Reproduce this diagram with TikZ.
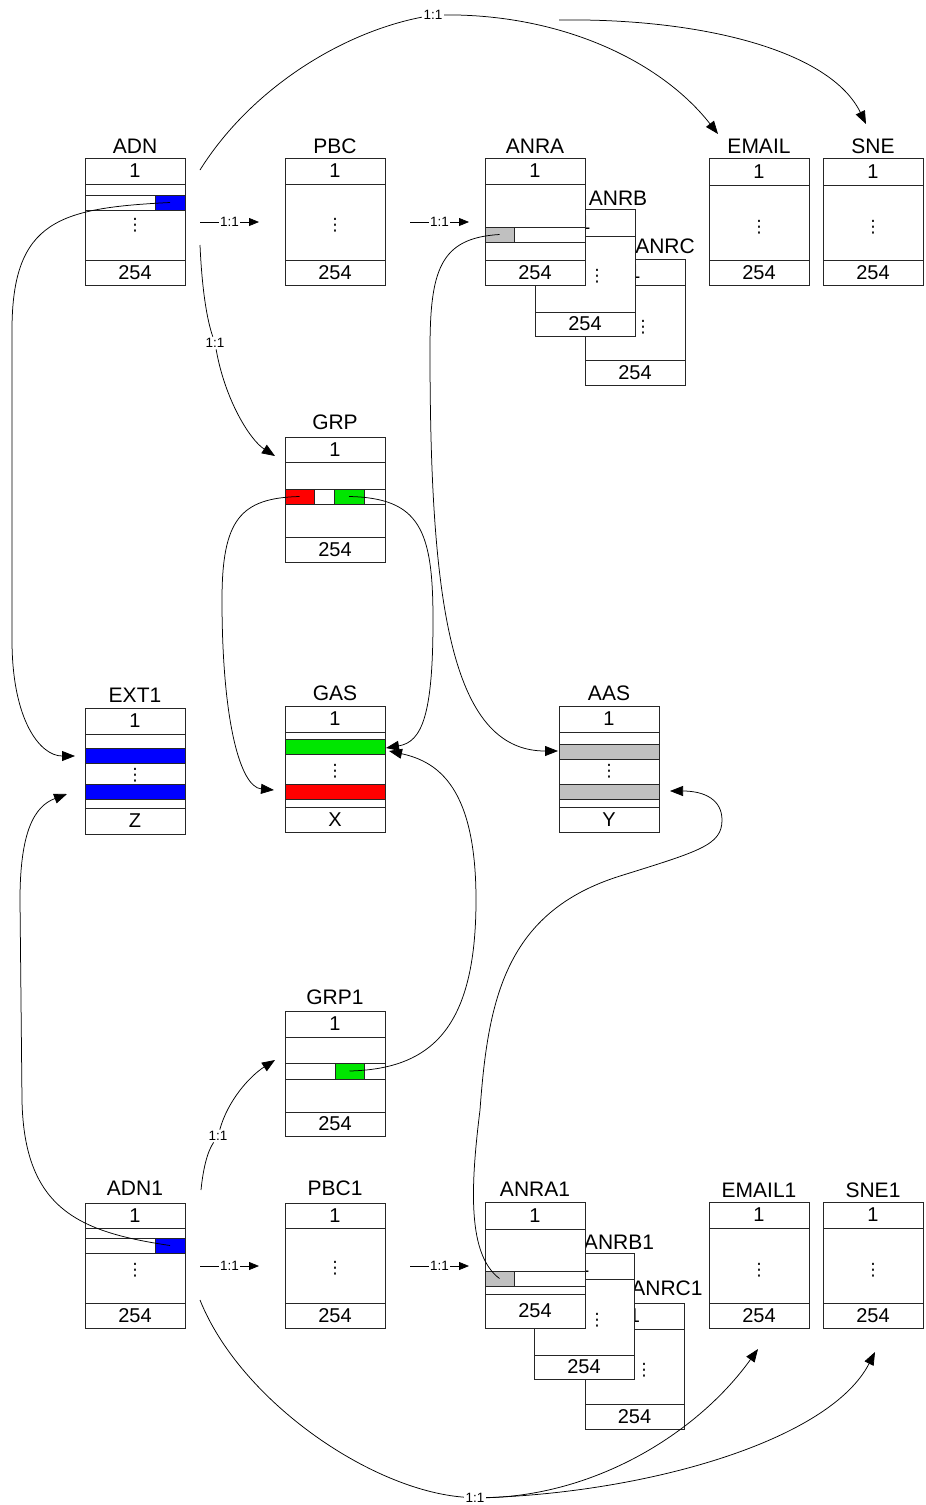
\documentclass[tikz,border=0pt]{standalone}
\usepackage{fontspec}
\setmainfont{Liberation Sans}
\newfontfamily\dvs{DejaVu Sans}
\usetikzlibrary{arrows.meta}
\definecolor{cblue}{RGB}{0,0,255}
\definecolor{cgreen}{RGB}{0,230,0}
\definecolor{cred}{RGB}{255,0,0}
\definecolor{cgray}{RGB}{192,192,192}
\tikzset{
 tbl/.style={draw=black!85, line width=0.75pt, inner sep=0pt, outer sep=0pt, anchor=north west, font=\fontsize{20}{20}\selectfont},
 ttl/.style={inner sep=0pt, font=\fontsize{21}{21}\selectfont},
 dts/.style={inner sep=0pt, font=\dvs\fontsize{17}{17}\selectfont},
 lab/.style={inner sep=1.5pt, fill=white, font=\fontsize{13.5}{13.5}\selectfont},
 conn/.style={line width=0.75pt, -{Triangle[length=13pt,width=10pt]}},
 sconn/.style={line width=0.75pt, -{Triangle[length=10pt,width=8pt]}},
 plainc/.style={line width=0.75pt},
}
\newcommand{\mkcell}[7]{\node[tbl,fill=#2,minimum width={(#5)-(#3)},minimum height={(#6)-(#4)}] (#1) at (#3,#4) {#7};}
\begin{document}
\begin{tikzpicture}[x=1pt,y=-1pt]
\useasboundingbox[fill=white] (0,0) rectangle (926,1505);
% ---------- ADN
\node[ttl] (adnT) at (135,146) {ADN};
\mkcell{adn}{white}{85}{158}{185}{285}{}
\mkcell{adnA}{white}{85}{158}{185}{184}{1}
\mkcell{adnW}{white}{85}{195}{155}{210}{}
\mkcell{adnB}{cblue}{155}{195}{185}{210}{}
\node[dts] (adnD) at (135,225) {⋮};
\mkcell{adnZ}{white}{85}{260}{185}{285}{254}
% ---------- PBC
\node[ttl] (pbcT) at (335,146) {PBC};
\mkcell{pbc}{white}{285}{158}{385}{285}{}
\mkcell{pbcA}{white}{285}{158}{385}{184}{1}
\node[dts] (pbcD) at (335,225) {⋮};
\mkcell{pbcZ}{white}{285}{260}{385}{285}{254}
% ---------- ANRC
\node[ttl] (anrcT) at (665,246) {ANRC};
\mkcell{anrc}{white}{585}{259}{685}{385}{}
\mkcell{anrcA}{white}{585}{259}{685}{285}{1}
\node[dts] (anrcD) at (643,327) {⋮};
\mkcell{anrcZ}{white}{585}{360}{685}{385}{254}
% ---------- ANRB
\node[ttl] (anrbT) at (618,198) {ANRB};
\mkcell{anrb}{white}{535}{209}{635}{336}{}
\mkcell{anrbA}{white}{535}{209}{635}{236}{1}
\node[dts] (anrbD) at (597,276) {⋮};
\mkcell{anrbZ}{white}{535}{312}{635}{336}{254}
% ---------- ANRA
\node[ttl] (anraT) at (535,146) {ANRA};
\mkcell{anra}{white}{485}{158}{585}{285}{}
\mkcell{anraA}{white}{485}{158}{585}{184}{1}
\mkcell{anraG}{cgray}{485}{227}{514}{242}{}
\mkcell{anraW}{white}{514}{227}{585}{242}{}
\mkcell{anraZ}{white}{485}{260}{585}{285}{254}
% ---------- EMAIL
\node[ttl] (emailT) at (759,146) {EMAIL};
\mkcell{email}{white}{709}{158}{809}{285}{}
\mkcell{emailA}{white}{709}{158}{809}{185}{1}
\node[dts] (emailD) at (759,227) {⋮};
\mkcell{emailZ}{white}{709}{260}{809}{285}{254}
% ---------- SNE
\node[ttl] (sneT) at (873,146) {SNE};
\mkcell{sne}{white}{823}{158}{923}{285}{}
\mkcell{sneA}{white}{823}{158}{923}{185}{1}
\node[dts] (sneD) at (873,227) {⋮};
\mkcell{sneZ}{white}{823}{260}{923}{285}{254}
% ---------- GRP
\node[ttl] (grpT) at (335,422) {GRP};
\mkcell{grp}{white}{285}{437}{385}{562}{}
\mkcell{grpA}{white}{285}{437}{385}{462}{1}
\mkcell{grpR}{cred}{285}{489}{314}{504}{}
\mkcell{grpW1}{white}{314}{489}{334}{504}{}
\mkcell{grpG}{cgreen}{334}{489}{364}{504}{}
\mkcell{grpW2}{white}{364}{489}{385}{504}{}
\mkcell{grpZ}{white}{285}{537}{385}{562}{254}
% ---------- EXT1
\node[ttl] (extT) at (135,695) {EXT1};
\mkcell{ext}{white}{85}{708}{185}{834}{}
\mkcell{extA}{white}{85}{708}{185}{734}{1}
\mkcell{extB1}{cblue}{85}{748}{185}{763}{}
\node[dts] (extD) at (135,775) {⋮};
\mkcell{extB2}{cblue}{85}{784}{185}{799}{}
\mkcell{extZ}{white}{85}{808}{185}{834}{Z}
% ---------- GAS
\node[ttl] (gasT) at (335,693) {GAS};
\mkcell{gas}{white}{285}{706}{385}{832}{}
\mkcell{gasA}{white}{285}{706}{385}{732}{1}
\mkcell{gasG}{cgreen}{285}{739}{385}{754}{}
\node[dts] (gasD) at (335,771) {⋮};
\mkcell{gasR}{cred}{285}{784}{385}{799}{}
\mkcell{gasZ}{white}{285}{807}{385}{832}{X}
% ---------- AAS
\node[ttl] (aasT) at (609,693) {AAS};
\mkcell{aas}{white}{559}{706}{659}{832}{}
\mkcell{aasA}{white}{559}{706}{659}{732}{1}
\mkcell{aasG1}{cgray}{559}{744}{659}{759}{}
\node[dts] (aasD) at (609,771) {⋮};
\mkcell{aasG2}{cgray}{559}{784}{659}{799}{}
\mkcell{aasZ}{white}{559}{807}{659}{832}{Y}
% ---------- GRP1
\node[ttl] (grp1T) at (335,997) {GRP1};
\mkcell{grp1}{white}{285}{1011}{385}{1136}{}
\mkcell{grp1A}{white}{285}{1011}{385}{1037}{1}
\mkcell{grp1W1}{white}{285}{1063}{335}{1079}{}
\mkcell{grp1G}{cgreen}{335}{1063}{364}{1079}{}
\mkcell{grp1W2}{white}{364}{1063}{385}{1079}{}
\mkcell{grp1Z}{white}{285}{1112}{385}{1136}{254}
% ---------- ADN1
\node[ttl] (adn1T) at (135,1188) {ADN1};
\mkcell{adn1}{white}{85}{1203}{185}{1328}{}
\mkcell{adn1A}{white}{85}{1203}{185}{1228}{1}
\mkcell{adn1W}{white}{85}{1238}{155}{1253}{}
\mkcell{adn1B}{cblue}{155}{1238}{185}{1253}{}
\node[dts] (adn1D) at (135,1270) {⋮};
\mkcell{adn1Z}{white}{85}{1303}{185}{1328}{254}
% ---------- PBC1
\node[ttl] (pbc1T) at (335,1188) {PBC1};
\mkcell{pbc1}{white}{285}{1203}{385}{1328}{}
\mkcell{pbc1A}{white}{285}{1203}{385}{1228}{1}
\node[dts] (pbc1D) at (335,1268) {⋮};
\mkcell{pbc1Z}{white}{285}{1303}{385}{1328}{254}
% ---------- ANRC1
\node[ttl] (anrc1T) at (667,1288) {ANRC1};
\mkcell{anrc1}{white}{585}{1303}{684}{1429}{}
\mkcell{anrc1A}{white}{585}{1303}{684}{1329}{1}
\node[dts] (anrc1D) at (644,1370) {⋮};
\mkcell{anrc1Z}{white}{585}{1404}{684}{1429}{254}
% ---------- ANRB1
\node[ttl] (anrb1T) at (619,1242) {ANRB1};
\mkcell{anrb1}{white}{534}{1253}{634}{1379}{}
\mkcell{anrb1A}{white}{534}{1253}{634}{1279}{1}
\node[dts] (anrb1D) at (597,1320) {⋮};
\mkcell{anrb1Z}{white}{534}{1355}{634}{1379}{254}
% ---------- ANRA1
\node[ttl] (anra1T) at (535,1189) {ANRA1};
\mkcell{anra1}{white}{485}{1202}{585}{1328}{}
\mkcell{anra1A}{white}{485}{1202}{585}{1229}{1}
\mkcell{anra1G}{cgray}{485}{1271}{514}{1286}{}
\mkcell{anra1W}{white}{514}{1271}{585}{1286}{}
\mkcell{anra1Z}{white}{485}{1294}{585}{1328}{254}
% ---------- EMAIL1
\node[ttl] (email1T) at (759,1190) {EMAIL1};
\mkcell{email1}{white}{709}{1202}{809}{1328}{}
\mkcell{email1A}{white}{709}{1202}{809}{1228}{1}
\node[dts] (email1D) at (759,1270) {⋮};
\mkcell{email1Z}{white}{709}{1303}{809}{1328}{254}
% ---------- SNE1
\node[ttl] (sne1T) at (873,1190) {SNE1};
\mkcell{sne1}{white}{823}{1202}{923}{1328}{}
\mkcell{sne1A}{white}{823}{1202}{923}{1228}{1}
\node[dts] (sne1D) at (873,1270) {⋮};
\mkcell{sne1Z}{white}{823}{1303}{923}{1328}{254}

% ---------- connector end points
\coordinate (s1a) at (200,222); \coordinate (s1b) at (259,222);
\coordinate (s2a) at (410,222); \coordinate (s2b) at (469,222);
\coordinate (s3a) at (200,1266); \coordinate (s3b) at (259,1266);
\coordinate (s4a) at (410,1266); \coordinate (s4b) at (469,1266);
\coordinate (adnUp) at (200,170);
\coordinate (adnDown) at (200,245);
\coordinate (emailIn) at (718,134);
\coordinate (sneFrom) at (559,20);
\coordinate (sneIn) at (866,124);
\coordinate (grpIn) at (275,456);
\coordinate (extIn1) at (75,756);
\coordinate (extIn2) at (67,794);
\coordinate (gasInR) at (274,790);
\coordinate (gasInG1) at (386,748);
\coordinate (gasInG2) at (389,751);
\coordinate (aasIn1) at (558,751);
\coordinate (aasIn2) at (670,791);
\coordinate (adn1Up) at (201,1190);
\coordinate (adn1Down) at (200,1300);
\coordinate (grp1In) at (275,1060);
\coordinate (email1In) at (758,1349);
\coordinate (sne1In) at (875,1352);

% ---------- labels on curves
\node[lab] (lt) at (433,15) {1:1};
\node[lab] (lg) at (215,343) {1:1};
\node[lab] (lg1) at (218,1136) {1:1};
\node[lab] (lb) at (475,1498) {1:1};

% ---------- short arrows
\draw[sconn] (s1a) -- node[lab] (m1) {1:1} (s1b);
\draw[sconn] (s2a) -- node[lab] (m2) {1:1} (s2b);
\draw[sconn] (s3a) -- node[lab] (m3) {1:1} (s3b);
\draw[sconn] (s4a) -- node[lab] (m4) {1:1} (s4b);

% ---------- top arc
\draw[plainc] (adnUp) .. controls (250,90) and (340,33) .. (lt);
\draw[conn] (lt) .. controls (560,14) and (660,60) .. (emailIn);
\draw[conn] (sneFrom) .. controls (700,18) and (830,50) .. (sneIn);
% ---------- ADN -> GRP
\draw[plainc] (adnDown) .. controls (202,290) and (207,320) .. (lg);
\draw[conn] (lg) .. controls (225,400) and (250,440) .. (grpIn);
% ---------- ADN blue -> EXT1
\draw[conn] (adnB.center) .. controls (60,208) and (12,220) .. (12,330) -- (12,640) .. controls (12,720) and (40,756) .. (extIn1);
% ---------- ANRA gray -> AAS
\draw[conn] (anraG.center) .. controls (440,238) and (430,270) .. (430,350) .. controls (430,600) and (450,751) .. (aasIn1);
% ---------- GRP red/green -> GAS
\draw[conn] (grpR.center) .. controls (240,498) and (222,520) .. (222,600) .. controls (222,720) and (240,787) .. (gasInR);
\draw[conn] (grpG.center) .. controls (420,498) and (433,530) .. (433,620) .. controls (433,715) and (422,742) .. (gasInG1);
\draw[conn] (grp1G.center) .. controls (430,1069) and (476,1030) .. (476,900) .. controls (476,790) and (440,762) .. (gasInG2);
% ---------- ADN1 blue -> EXT1
\draw[conn] (adn1B.center) .. controls (80,1232) and (24,1210) .. (22,1100) -- (20,900) .. controls (20,830) and (35,806) .. (extIn2);
% ---------- ANRA1 gray -> AAS
\draw[conn] (anra1G.center) .. controls (468,1255) and (470,1190) .. (480,1110) .. controls (488,1000) and (505,912) .. (620,876) .. controls (700,851) and (722,845) .. (722,820) .. controls (722,800) and (705,791) .. (aasIn2);
% ---------- ADN1 -> GRP1
\draw[plainc] (adn1Up) .. controls (203,1170) and (207,1152) .. (lg1);
\draw[conn] (lg1) .. controls (228,1100) and (250,1076) .. (grp1In);
% ---------- bottom arc
\draw[plainc] (adn1Down) .. controls (240,1400) and (370,1490) .. (lb);
\draw[conn] (lb) .. controls (600,1495) and (700,1430) .. (email1In);
\draw[conn] (lb) .. controls (650,1492) and (830,1440) .. (sne1In);
\end{tikzpicture}
\end{document}
